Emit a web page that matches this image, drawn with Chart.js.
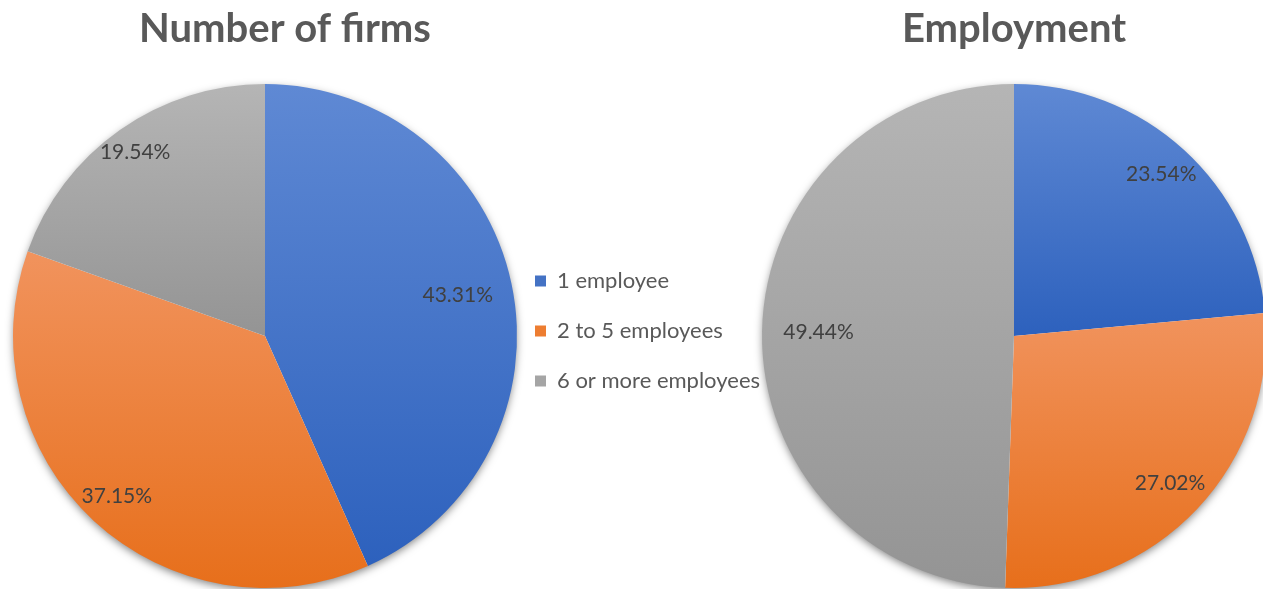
<!DOCTYPE html>
<html>
<head>
<meta charset="utf-8">
<title>Firms and employment by firm size</title>
<script src="https://cdn.jsdelivr.net/npm/chart.js@4.4.1/dist/chart.umd.min.js"></script>
<style>
  html, body { margin: 0; padding: 0; background: #fff; overflow: hidden; }
  body { width: 1263px; height: 589px; position: relative; }
  .box { position: absolute; top: 0; height: 589px; }
  #firmsBox { left: 0; width: 557px; }
  #jobsBox { left: 507px; width: 759px; }
</style>
</head>
<body>
<div class="box" id="firmsBox"><canvas id="firms"></canvas></div>
<div class="box" id="jobsBox"><canvas id="jobs"></canvas></div>
<script>
const sizeClasses = ['1 employee', '2 to 5 employees', '6 or more employees'];
const firmShares = [43.31, 37.15, 19.54];
const employmentShares = [23.54, 27.02, 49.44];

// per-slice gradient ends (top -> bottom) and flat legend swatches
const topColors = ['#5f89d4', '#f1935d', '#b5b5b5'];
const bottomColors = ['#2d61bd', '#e76f1b', '#949494'];
const swatchColors = ['#4472c4', '#ed7d31', '#a5a5a5'];

const FONT = 'Lato, "Open Sans", sans-serif';

// vertical gradient spanning just the bounding box of one slice
function sliceFill(c) {
  const area = c.chart.chartArea;
  const i = c.dataIndex;
  if (!area) return swatchColors[i];
  const values = c.dataset.data;
  const total = values.reduce((a, b) => a + b, 0);
  let before = 0;
  for (let k = 0; k < i; k++) before += values[k];
  const a0 = -Math.PI / 2 + before / total * 2 * Math.PI;
  const a1 = a0 + values[i] / total * 2 * Math.PI;
  const cx = (area.left + area.right) / 2;
  const cy = (area.top + area.bottom) / 2;
  const r = Math.min(area.right - area.left, area.bottom - area.top) / 2;
  const ys = [cy, cy + r * Math.sin(a0), cy + r * Math.sin(a1)];
  [-Math.PI / 2, Math.PI / 2, 3 * Math.PI / 2].forEach(t => {
    if (t >= a0 && t <= a1) ys.push(cy + r * Math.sin(t));
  });
  const y0 = Math.min(...ys), y1 = Math.max(...ys);
  const g = c.chart.ctx.createLinearGradient(0, y0, 0, y1);
  g.addColorStop(0, topColors[i]);
  g.addColorStop(1, bottomColors[i]);
  return g;
}

// soft drop shadow under the whole pie
const pieShadow = {
  id: 'pieShadow',
  beforeDatasetsDraw(chart) {
    const arc = chart.getDatasetMeta(0).data[0];
    if (!arc) return;
    const {x, y, outerRadius} = arc.getProps(['x', 'y', 'outerRadius'], true);
    const ctx = chart.ctx;
    ctx.save();
    ctx.shadowColor = 'rgba(0,0,0,0.5)';
    ctx.shadowBlur = 9;
    ctx.shadowOffsetY = 3;
    ctx.beginPath();
    ctx.arc(x, y, outerRadius - 1, 0, 2 * Math.PI);
    ctx.fillStyle = '#ffffff';
    ctx.fill();
    ctx.restore();
  }
};

// percentage text inside each slice, near the rim; labels on the left/right
// sides are pulled in by their own width so they stay inside the circle
const sliceLabels = {
  id: 'sliceLabels',
  afterDatasetsDraw(chart) {
    const ctx = chart.ctx;
    const values = chart.data.datasets[0].data;
    ctx.save();
    ctx.font = '21px ' + FONT;
    ctx.fillStyle = '#404040';
    ctx.textAlign = 'center';
    ctx.textBaseline = 'middle';
    chart.getDatasetMeta(0).data.forEach((arc, i) => {
      const p = arc.getProps(['x', 'y', 'startAngle', 'endAngle', 'outerRadius'], true);
      const text = values[i].toFixed(2) + '%';
      const mid = (p.startAngle + p.endAngle) / 2;
      const w = ctx.measureText(text).width;
      const d = p.outerRadius + 14 - Math.abs(Math.cos(mid)) * w;
      ctx.fillText(text, p.x + Math.cos(mid) * d, p.y + Math.sin(mid) * d);
    });
    ctx.restore();
  }
};

// empty box on the right so the pie sits left of the title's centre
function rightGap(width) {
  return {
    id: 'rightGap',
    beforeInit(chart) {
      Chart.layouts.addBox(chart, {
        position: 'right',
        weight: 0,
        fullSize: false,
        options: {},
        isHorizontal() { return false; },
        update(maxWidth, maxHeight) { this.width = width; this.height = maxHeight; },
        draw() {}
      });
    }
  };
}

function titleOpts(text, fullSize) {
  return {
    display: true,
    text: text,
    fullSize: fullSize,
    color: '#595959',
    font: { family: FONT, size: 40, weight: 'bold' },
    padding: { top: 5, bottom: 31 }
  };
}

function pieConfig(values, title, fullTitle, legend, extraPlugins) {
  return {
    type: 'pie',
    data: {
      labels: sizeClasses,
      datasets: [{
        data: values,
        backgroundColor: sliceFill,
        borderWidth: 0,
        hoverBorderWidth: 0,
        hoverOffset: 0,
        offset: 0
      }]
    },
    options: {
      responsive: true,
      maintainAspectRatio: false,
      animation: false,
      events: [],
      layout: { padding: legend ? { left: 0, right: 0, bottom: 1 } : { left: 13, right: 0, bottom: 1 } },
      plugins: {
        title: titleOpts(title, fullTitle),
        tooltip: { enabled: false },
        legend: legend ? {
          display: true,
          position: 'left',
          fullSize: false,
          // the labels run right up to the pie's rim
          maxWidth: 255,
          // empty title with negative height lifts the items a little
          title: { display: true, text: '', font: { size: 10, lineHeight: 0 }, padding: { top: -10, bottom: 0 } },
          labels: {
            boxWidth: 11,
            boxHeight: 11,
            padding: 28,
            color: '#595959',
            font: { family: FONT, size: 22 },
            generateLabels: () => sizeClasses.map((text, i) => ({
              text: text,
              fillStyle: swatchColors[i],
              strokeStyle: swatchColors[i],
              lineWidth: 0,
              fontColor: '#595959',
              index: i
            }))
          }
        } : { display: false }
      }
    },
    plugins: [pieShadow, sliceLabels].concat(extraPlugins)
  };
}

new Chart(document.getElementById('firms'),
  pieConfig(firmShares, 'Number of firms', true, false, [rightGap(40)]));

new Chart(document.getElementById('jobs'),
  pieConfig(employmentShares, 'Employment', false, true, []));
</script>
</body>
</html>
